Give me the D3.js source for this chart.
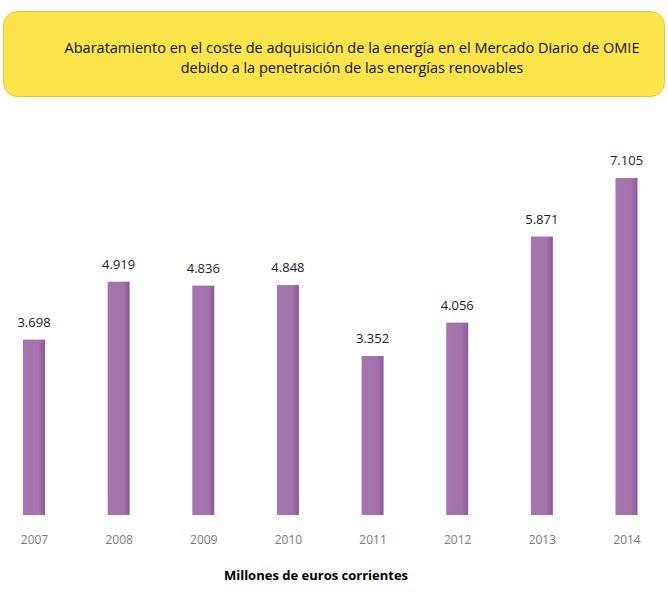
<!DOCTYPE html>
<html>
<head>
<meta charset="utf-8">
<script src="https://cdn.jsdelivr.net/npm/d3@7"></script>
<style>
  body { margin: 0; background: #fff; }
  svg { display: block; }
</style>
</head>
<body>
<div class="chart"></div>
<script>
// datos (millones de euros)
var years = ["2007", "2008", "2009", "2010", "2011", "2012", "2013", "2014"];
var values = [3698, 4919, 4836, 4848, 3352, 4056, 5871, 7105];
var titleLines = [
  "Abaratamiento en el coste de adquisición de la energía en el Mercado Diario de OMIE",
  "debido a la penetración de las energías renovables"
];
var unitLabel = "Millones de euros corrientes";

var w = 668;
var h = 596;

var svg = d3.select(".chart")
  .append("svg")
  .attr("width", w)
  .attr("height", h);

// degradado de las barras: claro a la izquierda, borde oscuro a la derecha
var grad = svg.append("defs").append("linearGradient")
  .attr("id", "barra")
  .attr("x1", "0").attr("x2", "1").attr("y1", "0").attr("y2", "0");
grad.append("stop").attr("offset", "0%").attr("stop-color", "#a575ae");
grad.append("stop").attr("offset", "70%").attr("stop-color", "#a473ad");
grad.append("stop").attr("offset", "100%").attr("stop-color", "#8b5898");

// caja del titulo
svg.append("rect")
  .attr("x", 3.5)
  .attr("y", 11.5)
  .attr("width", 661)
  .attr("height", 85)
  .attr("rx", 14)
  .attr("fill", "#fce44b")
  .attr("stroke", "#e9c23c")
  .attr("stroke-width", 1);

svg.selectAll(".titulo")
  .data(titleLines)
  .enter().append("text")
  .attr("class", "titulo")
  .attr("x", 352)
  .attr("y", function(d, i) { return 53 + i * 20; })
  .attr("text-anchor", "middle")
  .style("font-family", "'Open Sans', sans-serif")
  .style("font-size", "14.5px")
  .attr("fill", "#111")
  .text(function(d) { return d; });

var x = d3.scalePoint()
  .domain(years)
  .range([34, 626.5]);

var y = d3.scaleLinear()
  .domain([0, 7105])
  .range([515, 178]);

var barW = 22;
var fmt = function(v) { return d3.format(",")(v).replace(",", "."); };

svg.selectAll(".bar")
  .data(values)
  .enter().append("rect")
  .attr("class", "bar")
  .attr("x", function(d, i) { return x(years[i]) - barW / 2; })
  .attr("y", function(d) { return y(d); })
  .attr("width", barW)
  .attr("height", function(d) { return y(0) - y(d); })
  .attr("fill", "url(#barra)");

svg.selectAll(".valor")
  .data(values)
  .enter().append("text")
  .attr("class", "valor")
  .attr("x", function(d, i) { return x(years[i]); })
  .attr("y", function(d) { return y(d) - 13; })
  .attr("text-anchor", "middle")
  .style("font-family", "'Open Sans', sans-serif")
  .style("font-size", "13px")
  .attr("fill", "#222")
  .text(fmt);

// eje de anios, sin linea ni marcas
var axis = svg.append("g")
  .attr("transform", "translate(0,515)")
  .call(d3.axisBottom(x).tickSize(0).tickPadding(20));
axis.select(".domain").remove();
axis.selectAll("text")
  .style("font-family", "'Open Sans', sans-serif")
  .style("font-size", "12px")
  .attr("fill", "#7a7a7a");

svg.append("text")
  .attr("x", 316)
  .attr("y", 580)
  .attr("text-anchor", "middle")
  .style("font-family", "'Open Sans', sans-serif")
  .style("font-size", "13px")
  .style("font-weight", "bold")
  .attr("fill", "#000")
  .text(unitLabel);
</script>
</body>
</html>
